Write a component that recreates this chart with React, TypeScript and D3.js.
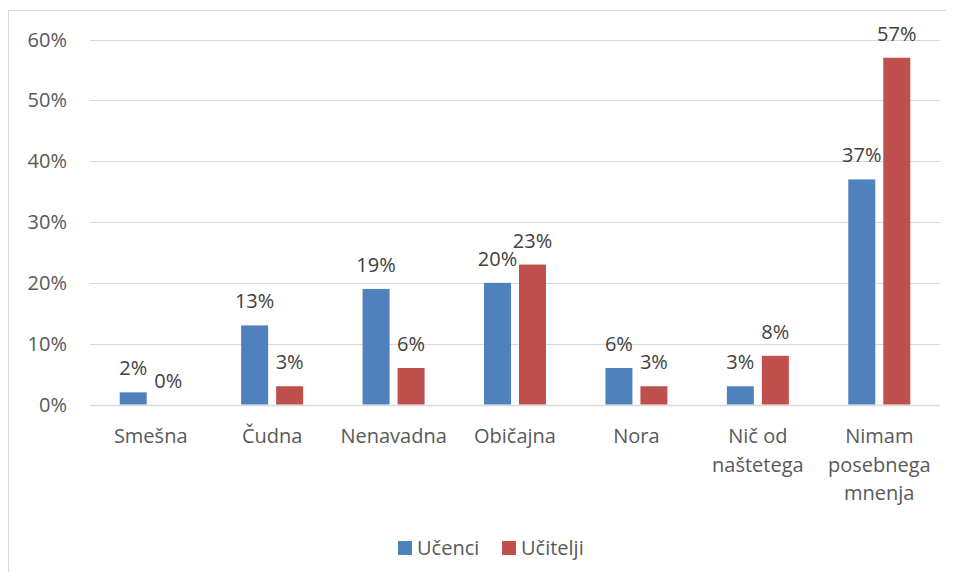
import React from "react";
import * as d3 from "d3";

const categories: string[][] = [
  ["Smešna"],
  ["Čudna"],
  ["Nenavadna"],
  ["Običajna"],
  ["Nora"],
  ["Nič od", "naštetega"],
  ["Nimam", "posebnega", "mnenja"],
];
const ucenci = [0.02, 0.13, 0.19, 0.2, 0.06, 0.03, 0.37];
const ucitelji = [0.0, 0.03, 0.06, 0.23, 0.03, 0.08, 0.57];
const yTicks = [0, 0.1, 0.2, 0.3, 0.4, 0.5, 0.6];
const seriesNames = ["Učenci", "Učitelji"];
const colors = ["#4f81bd", "#c0504d"];

const W = 946;
const H = 564;
const FONT = "'Open Sans', sans-serif";

export default function App() {
  const keys = categories.map((c) => c.join(" "));
  const x = d3.scaleBand<string>().domain(keys).range([82, 932]).padding(0);
  const y = d3.scaleLinear().domain([0, 0.6]).range([396.5, 31.5]);
  const barW = 27;
  const gap = 8;
  const fmt = d3.format(".0%");
  const series = [ucenci, ucitelji];

  return (
    <svg width={W} height={H} style={{ display: "block" }} fontFamily={FONT}>
      <rect x={0.5} y={2.5} width={W + 20} height={H + 20} fill="#fff" stroke="#d9d9d9" strokeWidth={1} />
      {yTicks.map((t) => (
        <g key={t}>
          <line x1={82} x2={932} y1={Math.round(y(t)) + 0.5} y2={Math.round(y(t)) + 0.5} stroke="#d9d9d9" strokeWidth={t === 0 ? 1.5 : 1} />
          <text x={59} y={y(t) + 7} textAnchor="end" fontSize={20} fill="#595959">
            {fmt(t)}
          </text>
        </g>
      ))}
      {keys.map((k, i) => {
        const cx = (x(k) as number) + x.bandwidth() / 2;
        return (
          <g key={k}>
            {series.map((s, si) => {
              const bx = si === 0 ? cx - gap / 2 - barW : cx + gap / 2;
              const top = y(s[i]);
              return (
                <g key={si}>
                  <rect x={bx} y={top} width={barW} height={y(0) - top} fill={colors[si]} />
                  <text x={bx + barW / 2} y={top - 17} textAnchor="middle" fontSize={20} fill="#404040">
                    {fmt(s[i])}
                  </text>
                </g>
              );
            })}
            {categories[i].map((line, li) => (
              <text key={li} x={cx} y={435 + li * 28.5} textAnchor="middle" fontSize={20} fill="#595959">
                {line}
              </text>
            ))}
          </g>
        );
      })}
      {seriesNames.map((n, i) => {
        const lx = [390, 494][i];
        return (
          <g key={n}>
            <rect x={lx} y={533} width={14} height={14} fill={colors[i]} />
            <text x={lx + 19} y={547} fontSize={20} fill="#595959">
              {n}
            </text>
          </g>
        );
      })}
    </svg>
  );
}
